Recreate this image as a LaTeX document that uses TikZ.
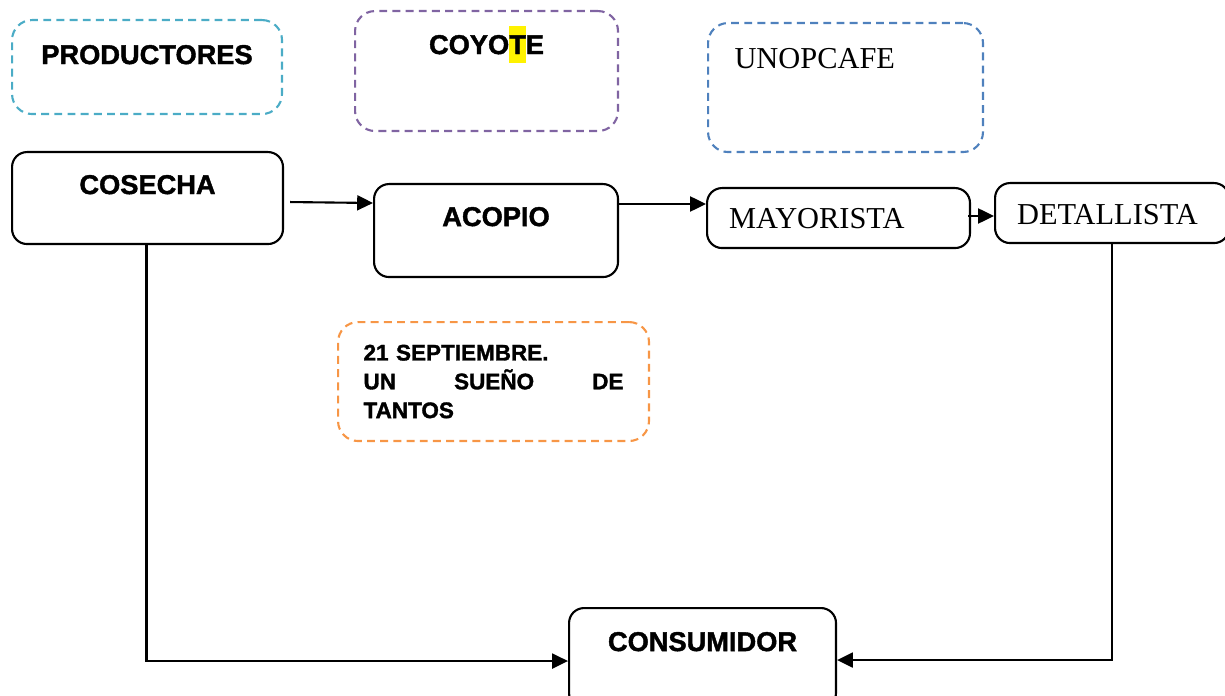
\documentclass[tikz,border=0pt]{standalone}
\usepackage{fontspec}
\setmainfont{Liberation Serif}
\setsansfont{Liberation Sans}[BoldFeatures={FakeBold=1.5}]
\usetikzlibrary{arrows.meta}
\definecolor{azulclaro}{HTML}{4BACC6}
\definecolor{morado}{HTML}{8064A2}
\definecolor{azul}{HTML}{4F81BD}
\definecolor{naranja}{HTML}{F79646}
\tikzset{caja/.style={draw, rounded corners=0.3cm, inner ysep=0pt, anchor=north west},
    nota/.style={draw=#1, dash pattern=on 4.5pt off 3pt, line width=1.2pt,
    rounded corners=0.4cm, inner ysep=0pt, anchor=north west},
    negrita/.style={font=\sffamily\bfseries\fontsize{15.5}{18}\selectfont},
    romana/.style={font=\rmfamily\fontsize{17.3}{20}\selectfont}
}

\begin{document}
\begin{tikzpicture}[x=0.02cm, y=-0.02cm, line width=1.2pt, >={Triangle[length=9pt,width=8.5pt]}]
        \useasboundingbox (0, 0) rectangle (1225, 696);

        \node[nota=azulclaro, negrita, minimum width=5.4cm, text height=0.88cm, text depth=1.0cm] (productores) at (11, 19) {PRODUCTORES};
        \node[nota=morado, negrita, minimum width=5.26cm, text height=0.86cm, text depth=1.54cm] (coyote) at (354, 10)
            {COYO{\setlength{\fboxsep}{0pt}\colorbox{yellow}{\rule[-5pt]{0pt}{21pt}T}}E};
        \node[nota=azul, romana, inner xsep=0.53cm, text width=4.44cm, align=left, text height=0.9cm, text depth=1.68cm] (unopcafe) at (707, 22) {UNOPCAFE};

        \node[caja, negrita, minimum width=5.42cm, text height=0.84cm, text depth=1.0cm] (cosecha) at (11, 151) {COSECHA};
        \node[caja, negrita, minimum width=4.88cm, text height=0.84cm, text depth=1.02cm] (acopio) at (373, 183) {ACOPIO};
        \node[caja, romana, inner xsep=0.44cm, text width=4.38cm, align=left, text height=0.8cm, text depth=0.4cm] (mayorista) at (706, 187) {MAYORISTA};
        \node[caja, romana, inner xsep=0.44cm, text width=3.8cm, align=left, text height=0.82cm, text depth=0.38cm] (detallista) at (994, 182) {DETALLISTA};

        \node[nota=naranja, inner xsep=0.51cm, text width=5.2cm, minimum height=2.38cm, align=left,
            font=\sffamily\bfseries\fontsize{12.8}{16.4}\selectfont] (fecha) at (337, 321)
            {21 SEPTIEMBRE.\\UN\hfill SUEÑO\hfill DE\\TANTOS};

        \node[caja, negrita, minimum width=5.34cm, text height=0.86cm, text depth=1.14cm] (consumidor) at (568, 607) {CONSUMIDOR};

        % flechas
        \draw[->] ([shift={(6,4)}]cosecha.east) -- ([shift={(0,20)}]acopio.north west);
        \draw[->] ([shift={(0,21)}]acopio.north east) -- ([shift={(0,17)}]mayorista.north west);
        \draw[->] ([shift={(-3,29)}]mayorista.north east) -- ([shift={(0,34)}]detallista.north west);
        \draw[->] ([shift={(-1,0)}]cosecha.south) |- ([shift={(0,3)}]consumidor.west);
        \draw[->] (detallista.south) |- ([shift={(0,2)}]consumidor.east);
    \end{tikzpicture}
\end{document}
